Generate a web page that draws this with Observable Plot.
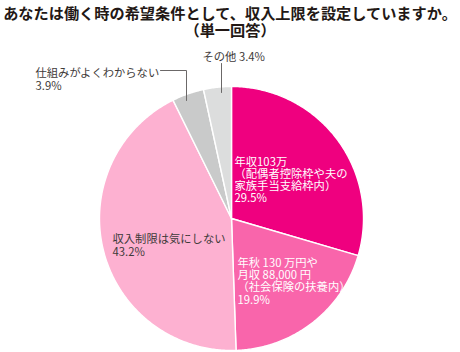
<!DOCTYPE html>
<html><head><meta charset="utf-8">
<script src="https://cdn.jsdelivr.net/npm/d3@7"></script>
<script src="https://cdn.jsdelivr.net/npm/@observablehq/plot@0.6"></script>
<style>
body{margin:0;background:#fff;font-family:"Noto Sans CJK JP",sans-serif;}
#title{width:460px;height:36px;padding-top:4px;text-align:center;font-weight:bold;font-size:15.2px;line-height:17px;color:#231815;white-space:nowrap;}
</style></head><body>
<div id="title">あなたは働く時の希望条件として、収入上限を設定していますか。<br>（単一回答）</div>
<div id="chart"></div>
<script>
// ---- data ----
const categories = ["年収103万", "年収130万円や月収88,000円", "収入制限は気にしない", "仕組みがよくわからない", "その他"];
const values = [29.5, 19.9, 43.2, 3.9, 3.4];
const labelTexts = [
  "年収103万\n（配偶者控除枠や夫の\n家族手当支給枠内）\n29.5%",
  "年秋 130 万円や\n月収 88,000 円\n（社会保険の扶養内）\n19.9%",
  "収入制限は気にしない\n43.2%",
  "仕組みがよくわからない\n3.9%",
  "その他 3.4%"
];
const colors = ["#ef007f", "#f965ab", "#fdb1d1", "#c9caca", "#dcdddd"];

// ---- layout (pixels relative to pie centre) ----
const R = 132;
const labelLayout = [
  {dx: 3, dy: -61.7, fill: "#fff", lh: 1.09},
  {dx: 6, dy: 39.3, fill: "#fff", lh: 1.1},
  {dx: -119, dy: 15.3, fill: "#3e3a39", lh: 1.16},
  {dx: -196, dy: -151.7, fill: "#3e3a39", lh: 1.22},
  {dx: -29, dy: -166.7, fill: "#3e3a39", lh: 1.1}
];
const leaders = {
  3: [[-71, -148], [-45, -148], [-45, -118]],
  4: [[-10, -155], [-10, -126]]
};

const rows = categories.map((c, i) => ({cat: c, value: values[i], label: labelTexts[i]}));
const arcs = d3.pie().sort(null).value(d => d.value).startAngle(0).endAngle(2 * Math.PI)(rows);

const slicePts = [];
for (const a of arcs) {
  slicePts.push({cat: a.data.cat, x: 0, y: 0});
  const n = Math.max(2, Math.ceil((a.endAngle - a.startAngle) / 0.01));
  for (let k = 0; k <= n; k++) {
    const t = a.startAngle + (a.endAngle - a.startAngle) * k / n;
    slicePts.push({cat: a.data.cat, x: Math.sin(t), y: Math.cos(t)});
  }
}

const leaderPts = [];
for (const [i, pts] of Object.entries(leaders)) {
  for (const [px, py] of pts) leaderPts.push({id: i, x: px / R, y: -py / R});
}

const textMarks = rows.map((r, i) => Plot.text([r], {
  x: () => 0, y: () => 0, text: "label",
  dx: labelLayout[i].dx, dy: labelLayout[i].dy,
  textAnchor: "start", lineAnchor: "top",
  fill: labelLayout[i].fill, fontSize: 11.3, lineHeight: labelLayout[i].lh,
  fontFamily: "Noto Sans CJK JP"
}));

const cx = 231, cy = 178;
const chart = Plot.plot({
  width: 460, height: 312, margin: 0,
  x: {domain: [-1, 1], range: [cx - R, cx + R], axis: null},
  y: {domain: [-1, 1], range: [cy + R, cy - R], axis: null},
  color: {domain: categories, range: colors},
  marks: [
    Plot.line(slicePts, {x: "x", y: "y", z: "cat", fill: "cat", stroke: "#fff", strokeWidth: 1.4, curve: "linear-closed", strokeLinejoin: "round"}),
    Plot.line(leaderPts, {x: "x", y: "y", z: "id", stroke: "#6b6868", strokeWidth: 1}),
    ...textMarks
  ]
});
document.getElementById("chart").append(chart);
</script>
</body></html>
